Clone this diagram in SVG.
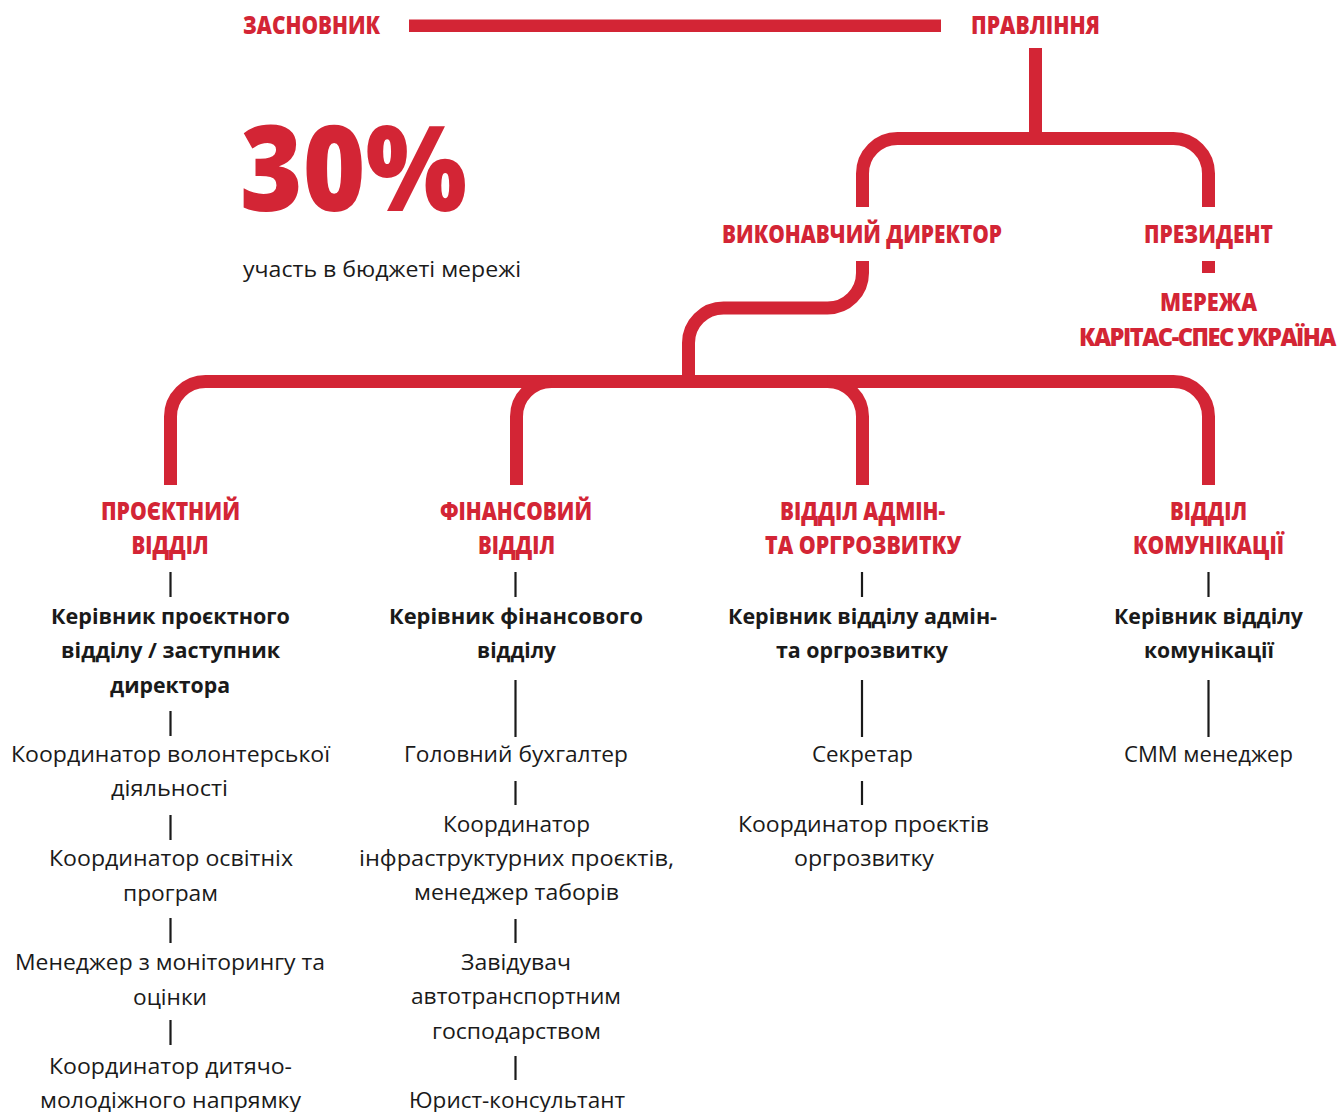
<svg xmlns="http://www.w3.org/2000/svg" width="1341" height="1112" viewBox="0 0 1341 1112">
<style>
.r{fill:#d32535;font-family:"Open Sans","Liberation Sans",sans-serif;font-weight:800;font-size:24px;text-anchor:middle}
.big{fill:#d32535;font-family:"Open Sans","Liberation Sans",sans-serif;font-weight:800;font-size:118px}
.b{fill:#1a1a1a;font-family:"Open Sans","Liberation Sans",sans-serif;font-weight:700;font-size:21px;text-anchor:middle}
.n{fill:#1a1a1a;font-family:"Open Sans","Liberation Sans",sans-serif;font-weight:400;font-size:21px;text-anchor:middle}
.cap{fill:#1a1a1a;font-family:"Open Sans","Liberation Sans",sans-serif;font-weight:400;font-size:21px}
.conn{fill:none;stroke:#d32535;stroke-width:13;stroke-linecap:butt}
.tick{stroke:#1a1a1a;stroke-width:2.2}
</style>
<rect width="1341" height="1112" fill="#ffffff"/>

<g id="connectors">
  <rect x="409" y="19.5" width="532" height="12.5" fill="#d32535"/>
  <path class="conn" d="M1035.5 48 V139"/>
  <path class="conn" d="M862.5 207 V173.5 A35 35 0 0 1 897.5 138.5 H1173.5 A35 35 0 0 1 1208.5 173.5 V207"/>
  <rect x="1202" y="261" width="13" height="12" fill="#d32535"/>
  <path class="conn" d="M862.5 261 V273 A35 35 0 0 1 827.5 308 H723.5 A35 35 0 0 0 688.5 343 V382"/>
  <path class="conn" d="M170.5 485 V416.5 A35 35 0 0 1 205.5 381.5 H1173.5 A35 35 0 0 1 1208.5 416.5 V485"/>
  <path class="conn" d="M551.5 381.5 A35 35 0 0 0 516.5 416.5 V485"/>
  <path class="conn" d="M827.5 381.5 A35 35 0 0 1 862.5 416.5 V485"/>
  <line class="tick" x1="170.5" y1="572" x2="170.5" y2="597"/>
  <line class="tick" x1="170.5" y1="711" x2="170.5" y2="736"/>
  <line class="tick" x1="170.5" y1="815" x2="170.5" y2="840"/>
  <line class="tick" x1="170.5" y1="918" x2="170.5" y2="943"/>
  <line class="tick" x1="170.5" y1="1020" x2="170.5" y2="1045"/>
  <line class="tick" x1="515.5" y1="572" x2="515.5" y2="597"/>
  <line class="tick" x1="515.5" y1="680" x2="515.5" y2="737"/>
  <line class="tick" x1="515.5" y1="781" x2="515.5" y2="805"/>
  <line class="tick" x1="515.5" y1="919" x2="515.5" y2="943"/>
  <line class="tick" x1="515.5" y1="1056" x2="515.5" y2="1080"/>
  <line class="tick" x1="862" y1="572" x2="862" y2="597"/>
  <line class="tick" x1="862" y1="680" x2="862" y2="737"/>
  <line class="tick" x1="862" y1="781" x2="862" y2="805"/>
  <line class="tick" x1="1208.5" y1="572" x2="1208.5" y2="597"/>
  <line class="tick" x1="1208.5" y1="680" x2="1208.5" y2="737"/>
</g>

<g id="founder"><text class="r" x="311.5" y="34" textLength="137" lengthAdjust="spacingAndGlyphs">ЗАСНОВНИК</text></g>
<g id="board"><text class="r" x="1035.5" y="34" textLength="129" lengthAdjust="spacingAndGlyphs">ПРАВЛІННЯ</text></g>
<g id="stat">
  <text class="big" x="240" y="211" textLength="227" lengthAdjust="spacingAndGlyphs">30%</text>
  <text class="cap" x="243" y="277" textLength="278" lengthAdjust="spacingAndGlyphs">участь в бюджеті мережі</text>
</g>
<g id="exec"><text class="r" x="862" y="243" textLength="280" lengthAdjust="spacingAndGlyphs">ВИКОНАВЧИЙ ДИРЕКТОР</text></g>
<g id="president"><text class="r" x="1208.5" y="243" textLength="129" lengthAdjust="spacingAndGlyphs">ПРЕЗИДЕНТ</text></g>
<g id="network">
  <text class="r" x="1208.5" y="311" textLength="97" lengthAdjust="spacingAndGlyphs">МЕРЕЖА</text>
  <text class="r" x="1079" y="346" style="text-anchor:start;letter-spacing:-1.5px" textLength="256" lengthAdjust="spacingAndGlyphs">КАРІТАС-СПЕС УКРАЇНА</text>
</g>

<g id="dept-project">
  <text class="r" x="170.5" y="520" textLength="139" lengthAdjust="spacingAndGlyphs">ПРОЄКТНИЙ</text>
  <text class="r" x="170" y="554" textLength="77" lengthAdjust="spacingAndGlyphs">ВІДДІЛ</text>
  <text class="b" x="170.5" y="624" textLength="239" lengthAdjust="spacingAndGlyphs">Керівник проєктного</text>
  <text class="b" x="170.5" y="658" textLength="219" lengthAdjust="spacingAndGlyphs">відділу / заступник</text>
  <text class="b" x="170" y="693" textLength="120" lengthAdjust="spacingAndGlyphs">директора</text>
  <text class="n" x="170.5" y="762" textLength="319" lengthAdjust="spacingAndGlyphs">Координатор волонтерської</text>
  <text class="n" x="169.5" y="796" textLength="117" lengthAdjust="spacingAndGlyphs">діяльності</text>
  <text class="n" x="171" y="866" textLength="244" lengthAdjust="spacingAndGlyphs">Координатор освітніх</text>
  <text class="n" x="170.5" y="901" textLength="95" lengthAdjust="spacingAndGlyphs">програм</text>
  <text class="n" x="170" y="970" textLength="310" lengthAdjust="spacingAndGlyphs">Менеджер з моніторингу та</text>
  <text class="n" x="170" y="1005" textLength="74" lengthAdjust="spacingAndGlyphs">оцінки</text>
  <text class="n" x="170.5" y="1074" textLength="243" lengthAdjust="spacingAndGlyphs">Координатор дитячо-</text>
  <text class="n" x="170.5" y="1108" textLength="261" lengthAdjust="spacingAndGlyphs">молодіжного напрямку</text>
</g>

<g id="dept-finance">
  <text class="r" x="516" y="520" textLength="152" lengthAdjust="spacingAndGlyphs">ФІНАНСОВИЙ</text>
  <text class="r" x="516.5" y="554" textLength="77" lengthAdjust="spacingAndGlyphs">ВІДДІЛ</text>
  <text class="b" x="516" y="624" textLength="254" lengthAdjust="spacingAndGlyphs">Керівник фінансового</text>
  <text class="b" x="516.5" y="658" textLength="79" lengthAdjust="spacingAndGlyphs">відділу</text>
  <text class="n" x="516" y="762" textLength="224" lengthAdjust="spacingAndGlyphs">Головний бухгалтер</text>
  <text class="n" x="516.5" y="832" textLength="147" lengthAdjust="spacingAndGlyphs">Координатор</text>
  <text class="n" x="516.5" y="866" textLength="315" lengthAdjust="spacingAndGlyphs">інфраструктурних проєктів,</text>
  <text class="n" x="516.5" y="900" textLength="205" lengthAdjust="spacingAndGlyphs">менеджер таборів</text>
  <text class="n" x="516" y="970" textLength="110" lengthAdjust="spacingAndGlyphs">Завідувач</text>
  <text class="n" x="516" y="1004" textLength="210" lengthAdjust="spacingAndGlyphs">автотранспортним</text>
  <text class="n" x="516.5" y="1039" textLength="169" lengthAdjust="spacingAndGlyphs">господарством</text>
  <text class="n" x="517" y="1108" textLength="216" lengthAdjust="spacingAndGlyphs">Юрист-консультант</text>
</g>

<g id="dept-admin">
  <text class="r" x="862.5" y="520" textLength="165" lengthAdjust="spacingAndGlyphs">ВІДДІЛ АДМІН-</text>
  <text class="r" x="863" y="554" textLength="196" lengthAdjust="spacingAndGlyphs">ТА ОРГРОЗВИТКУ</text>
  <text class="b" x="862.5" y="624" textLength="269" lengthAdjust="spacingAndGlyphs">Керівник відділу адмін-</text>
  <text class="b" x="862" y="658" textLength="172" lengthAdjust="spacingAndGlyphs">та оргрозвитку</text>
  <text class="n" x="862.5" y="762" textLength="101" lengthAdjust="spacingAndGlyphs">Секретар</text>
  <text class="n" x="863.5" y="832" textLength="251" lengthAdjust="spacingAndGlyphs">Координатор проєктів</text>
  <text class="n" x="864" y="866" textLength="140" lengthAdjust="spacingAndGlyphs">оргрозвитку</text>
</g>

<g id="dept-comms">
  <text class="r" x="1208.5" y="520" textLength="77" lengthAdjust="spacingAndGlyphs">ВІДДІЛ</text>
  <text class="r" x="1208.5" y="554" textLength="151" lengthAdjust="spacingAndGlyphs">КОМУНІКАЦІЇ</text>
  <text class="b" x="1208.5" y="624" textLength="189" lengthAdjust="spacingAndGlyphs">Керівник відділу</text>
  <text class="b" x="1209" y="658" textLength="130" lengthAdjust="spacingAndGlyphs">комунікації</text>
  <text class="n" x="1208.5" y="762" textLength="169" lengthAdjust="spacingAndGlyphs">СММ менеджер</text>
</g>
</svg>
